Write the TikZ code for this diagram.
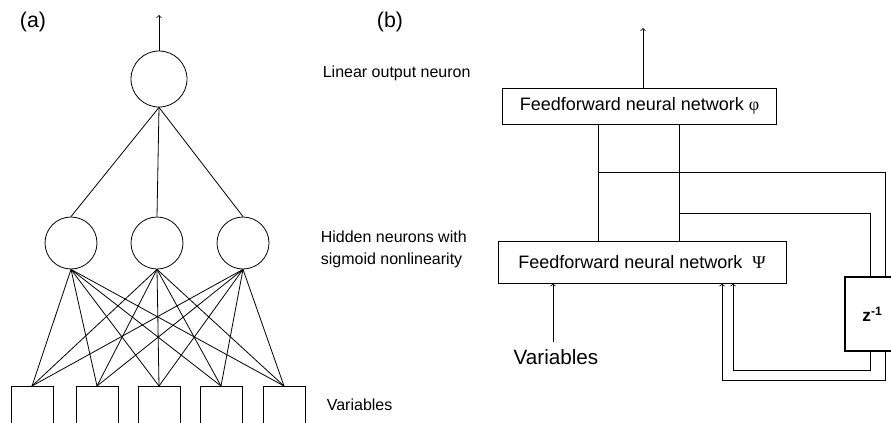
\documentclass[tikz,border=0pt]{standalone}
\usepackage{fontspec}
\setmainfont{Liberation Sans}
\newfontfamily\greekfont{Liberation Serif}
\usepackage{tikz}
\usetikzlibrary{shapes, positioning}

\begin{document}
\begin{tikzpicture}[x=0.75pt, y=-0.75pt, semithick, >=to,
    neuron/.style = {draw, circle, inner sep=0pt},
    input/.style = {draw, rectangle, minimum width=31.5pt, minimum height=33pt, anchor=north},
    net/.style = {draw, rectangle, font=\fontsize{13.5}{16}\selectfont},
    lbl/.style = {font=\fontsize{12}{16.5}\selectfont, anchor=west, align=left}]
    \useasboundingbox (0,0) rectangle (891,422);

    % (a)
    \node (a) at (33,22) {\fontsize{16}{18}\selectfont (a)};
    \node[neuron, minimum size=42pt] (o) at (159,79) {};
    \coordinate (oout) at (159,15);
    \foreach \i/\x in {1/71, 2/157, 3/243}
        \node[neuron, minimum size=39pt] (h\i) at (\x,243) {};
    \foreach \i/\x in {1/32, 2/97, 3/159, 4/221, 5/284}
        \node[input] (in\i) at (\x,386) {};

    \draw[->] (o) -- (oout);
    \foreach \i in {1,2,3}
        \draw (o.south) -- (h\i.north);
    \foreach \i in {1,2,3}
        \foreach \j in {1,...,5}
            \draw (h\i.south) -- (in\j.north);

    \node[lbl] (lout) at (318,73) {Linear output neuron};
    \node[lbl] (lhid) at (316,249) {Hidden neurons with\\sigmoid nonlinearity};
    \node[lbl] (lvar) at (322,405) {Variables};

    % (b)
    \node (b) at (390,22) {\fontsize{16}{18}\selectfont (b)};
    \node[net, minimum width=206pt, minimum height=27pt] (phi) at (639.5,106)
        {Feedforward neural network {\greekfont φ}};
    \node[net, minimum width=216pt, minimum height=31.5pt] (psi) at (642,262)
        {Feedforward neural network \ {\greekfont Ψ}};
    \node[draw, very thick, minimum width=41pt, minimum height=55.5pt,
          font=\bfseries\fontsize{13}{16}\selectfont] (z) at (872.5,314) {z\textsuperscript{-1}};
    \node[font=\fontsize{15.5}{18}\selectfont] (var) at (556,357) {Variables};

    \coordinate (phiout) at (643,28);
    \coordinate (varin) at (553,342);
    \coordinate (j1) at (598,172);
    \coordinate (j2) at (679,213);
    \coordinate (fb1) at (733,370);
    \coordinate (fb2) at (722,380);

    \draw[->] (phi.north -| phiout) -- (phiout);
    \draw (phi.south -| j1) -- (psi.north -| j1);
    \draw (phi.south -| j2) -- (psi.north -| j2);
    \draw (j1) -| ([xshift=9.4pt]z.north);
    \draw (j2) -| ([xshift=-1.9pt]z.north);
    \draw[->] ([xshift=-1.9pt]z.south) |- (fb1) -- (psi.south -| fb1);
    \draw[->] ([xshift=9.4pt]z.south) |- (fb2) -- (psi.south -| fb2);
    \draw[->] (varin) -- (psi.south -| varin);
\end{tikzpicture}
\end{document}
